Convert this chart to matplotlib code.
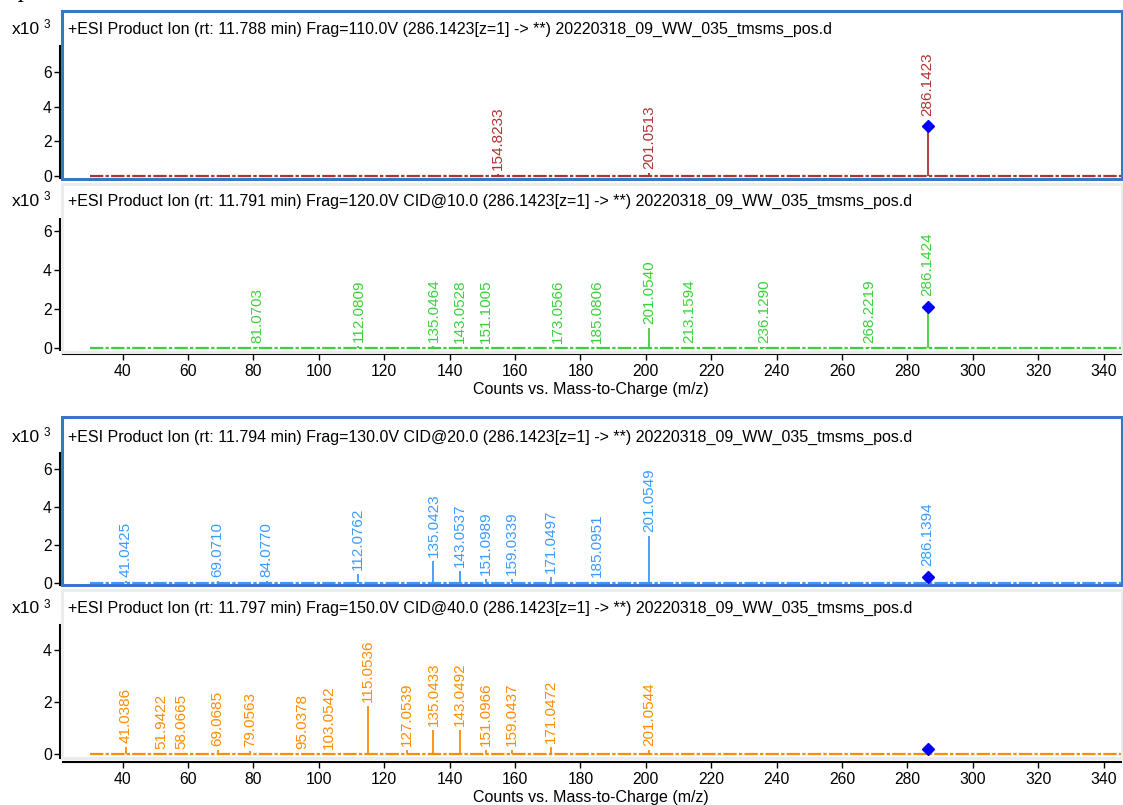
"""
Four stacked MS/MS product ion spectra (counts vs. m/z)
"""

import matplotlib
matplotlib.use('Agg')
import matplotlib.pyplot as plt
from matplotlib.patches import Rectangle

plt.rcParams['font.family'] = ['Liberation Sans', 'DejaVu Sans']

# ---- data (intensities in units of 10^3 counts) ----
titles = [
    '+ESI Product Ion (rt: 11.788 min) Frag=110.0V (286.1423[z=1] -> **) 20220318_09_WW_035_tmsms_pos.d',
    '+ESI Product Ion (rt: 11.791 min) Frag=120.0V CID@10.0 (286.1423[z=1] -> **) 20220318_09_WW_035_tmsms_pos.d',
    '+ESI Product Ion (rt: 11.794 min) Frag=130.0V CID@20.0 (286.1423[z=1] -> **) 20220318_09_WW_035_tmsms_pos.d',
    '+ESI Product Ion (rt: 11.797 min) Frag=150.0V CID@40.0 (286.1423[z=1] -> **) 20220318_09_WW_035_tmsms_pos.d',
]
colors = ['#b03232', '#3ad13a', '#3a9bff', '#ff8c00']

# fragment peaks (precursor listed separately below)
mz1 = [154.8233, 201.0513]
int1 = [0.08, 0.17]

mz2 = [81.0703, 112.0809, 135.0464, 143.0528, 151.1005, 173.0566, 185.0806,
       201.0540, 213.1594, 236.1290, 268.2219]
int2 = [0.05, 0.13, 0.12, 0.08, 0.06, 0.06, 0.05, 1.03, 0.05, 0.05, 0.08]

mz3 = [41.0425, 69.0710, 84.0770, 112.0762, 135.0423, 143.0537, 151.0989,
       159.0339, 171.0497, 185.0951, 201.0549]
int3 = [0.08, 0.06, 0.06, 0.45, 1.12, 0.62, 0.19, 0.19, 0.27, 0.05, 2.45]

mz4 = [41.0386, 51.9422, 58.0665, 69.0685, 79.0563, 95.0378, 103.0542, 115.0536,
       127.0539, 135.0433, 143.0492, 151.0966, 159.0437, 171.0472, 201.0544]
int4 = [0.27, 0.03, 0.04, 0.14, 0.1, 0.03, 0.04, 1.86, 0.14, 0.91, 0.91, 0.14,
        0.14, 0.27, 0.14]

# precursor marker (blue diamond): m/z, intensity, labelled?
prec_mz = [286.1423, 286.1424, 286.1394, 286.1423]
prec_int = [2.88, 2.13, 0.30, 0.20]
prec_labelled = [True, True, True, False]
prec_line = [True, True, True, False]

yticks = [[0, 2, 4, 6], [0, 2, 4, 6], [0, 2, 4, 6], [0, 2, 4]]
xticks = list(range(40, 341, 20))
xlabel = 'Counts vs. Mass-to-Charge (m/z)'

# ---- layout (pixels of the 1123 x 805 canvas) ----
W, H = 1123, 805
axLeft, axRight = 60, 1121
axTop = [46, 219, 453, 625]
axBottom = [178, 350, 585, 758]
ylims = [(-0.13, 7.52), (-0.09, 6.63), (-0.13, 6.84), (-0.15, 4.96)]
xlims = (20.83, 345.3)
titleY = [29.5, 201, 437, 608.5]
frameTop = [11, 184, 417, 590]
frameBottom = [179, 352, 585, 758]
frameColor = ['#3a76c6', '#ececec', '#3a76c6', '#ececec']
showXAxis = [False, True, False, True]
baselineStart = 30.0


def fx(px):
    return px / W


def fy(py):
    return 1 - py / H


def main():
    fig = plt.figure(figsize=(W / 100, H / 100), dpi=100)
    fsText = 11.5
    fsTick = 11.3
    fsPeak = 11

    peaks = [(mz1, int1), (mz2, int2), (mz3, int3), (mz4, int4)]

    for i in range(4):
        mzs, ints = peaks[i]
        col = colors[i]
        ax = fig.add_axes([fx(axLeft), fy(axBottom[i]),
                           fx(axRight - axLeft), (axBottom[i] - axTop[i]) / H])
        ax.set_facecolor('none')
        ax.set_xlim(*xlims)
        ax.set_ylim(*ylims[i])

        # baseline noise
        ax.plot([baselineStart, xlims[1]], [0, 0], color=col, lw=1.6,
                linestyle=(0, (6, 1.0, 1.5, 1.0)), solid_capstyle='butt')

        # peaks and labels
        ax.vlines(mzs, 0, ints, color=col, lw=1.3)
        for m, h in zip(mzs, ints):
            ax.annotate('{:.4f}'.format(m), (m, h), xytext=(0, 3),
                        textcoords='offset points', rotation=90,
                        ha='center', va='bottom', color=col, fontsize=fsPeak)

        # precursor
        if prec_line[i]:
            ax.vlines([prec_mz[i]], 0, [prec_int[i]], color=col, lw=1.3)
        ax.plot([prec_mz[i]], [prec_int[i]], 'D', color='#0000ff',
                markersize=5.8, zorder=5)
        if prec_labelled[i]:
            ax.annotate('{:.4f}'.format(prec_mz[i]), (prec_mz[i], prec_int[i]),
                        xytext=(0, 7.5), textcoords='offset points', rotation=90,
                        ha='center', va='bottom', color=col, fontsize=fsPeak)

        # axes styling
        for side in ['top', 'right']:
            ax.spines[side].set_visible(False)
        ax.spines['left'].set_linewidth(1.5)
        ax.set_yticks(yticks[i])
        ax.tick_params(axis='y', direction='out', length=4.3, width=1,
                       pad=1.5, labelsize=fsTick)
        if showXAxis[i]:
            ax.spines['bottom'].set_linewidth(1.5)
            ax.spines['bottom'].set_position(('outward', 3))
            ax.spines['bottom'].set_bounds(xlims[0] + 1, xlims[1])
            ax.set_xticks(xticks)
            ax.tick_params(axis='x', direction='out', length=4.3, width=1,
                           pad=2.5, labelsize=fsTick)
            ax.set_xlabel(xlabel, fontsize=fsText, labelpad=2.5)
        else:
            ax.spines['bottom'].set_visible(False)
            ax.set_xticks([])

        # panel frame
        fig.patches.append(Rectangle((fx(61.7), fy(frameBottom[i])),
                                     fx(1121.7 - 61.7),
                                     (frameBottom[i] - frameTop[i]) / H,
                                     transform=fig.transFigure, fill=False,
                                     edgecolor=frameColor[i], lw=2.2))

        # header text
        fig.text(fx(68), fy(titleY[i]), titles[i], fontsize=fsText,
                 ha='left', va='center')
        fig.text(fx(12), fy(titleY[i]), 'x10', fontsize=12.5,
                 ha='left', va='center')
        fig.text(fx(43.5), fy(titleY[i] - 4), '3', fontsize=8.5,
                 ha='left', va='center')

    # cut-off heading at the very top
    fig.text(fx(8), fy(-2.5), 'Spectra', fontsize=18, style='italic',
             family='Liberation Serif', ha='left', va='baseline')

    fig.savefig('out.png', dpi=100)


if __name__ == '__main__':
    main()
